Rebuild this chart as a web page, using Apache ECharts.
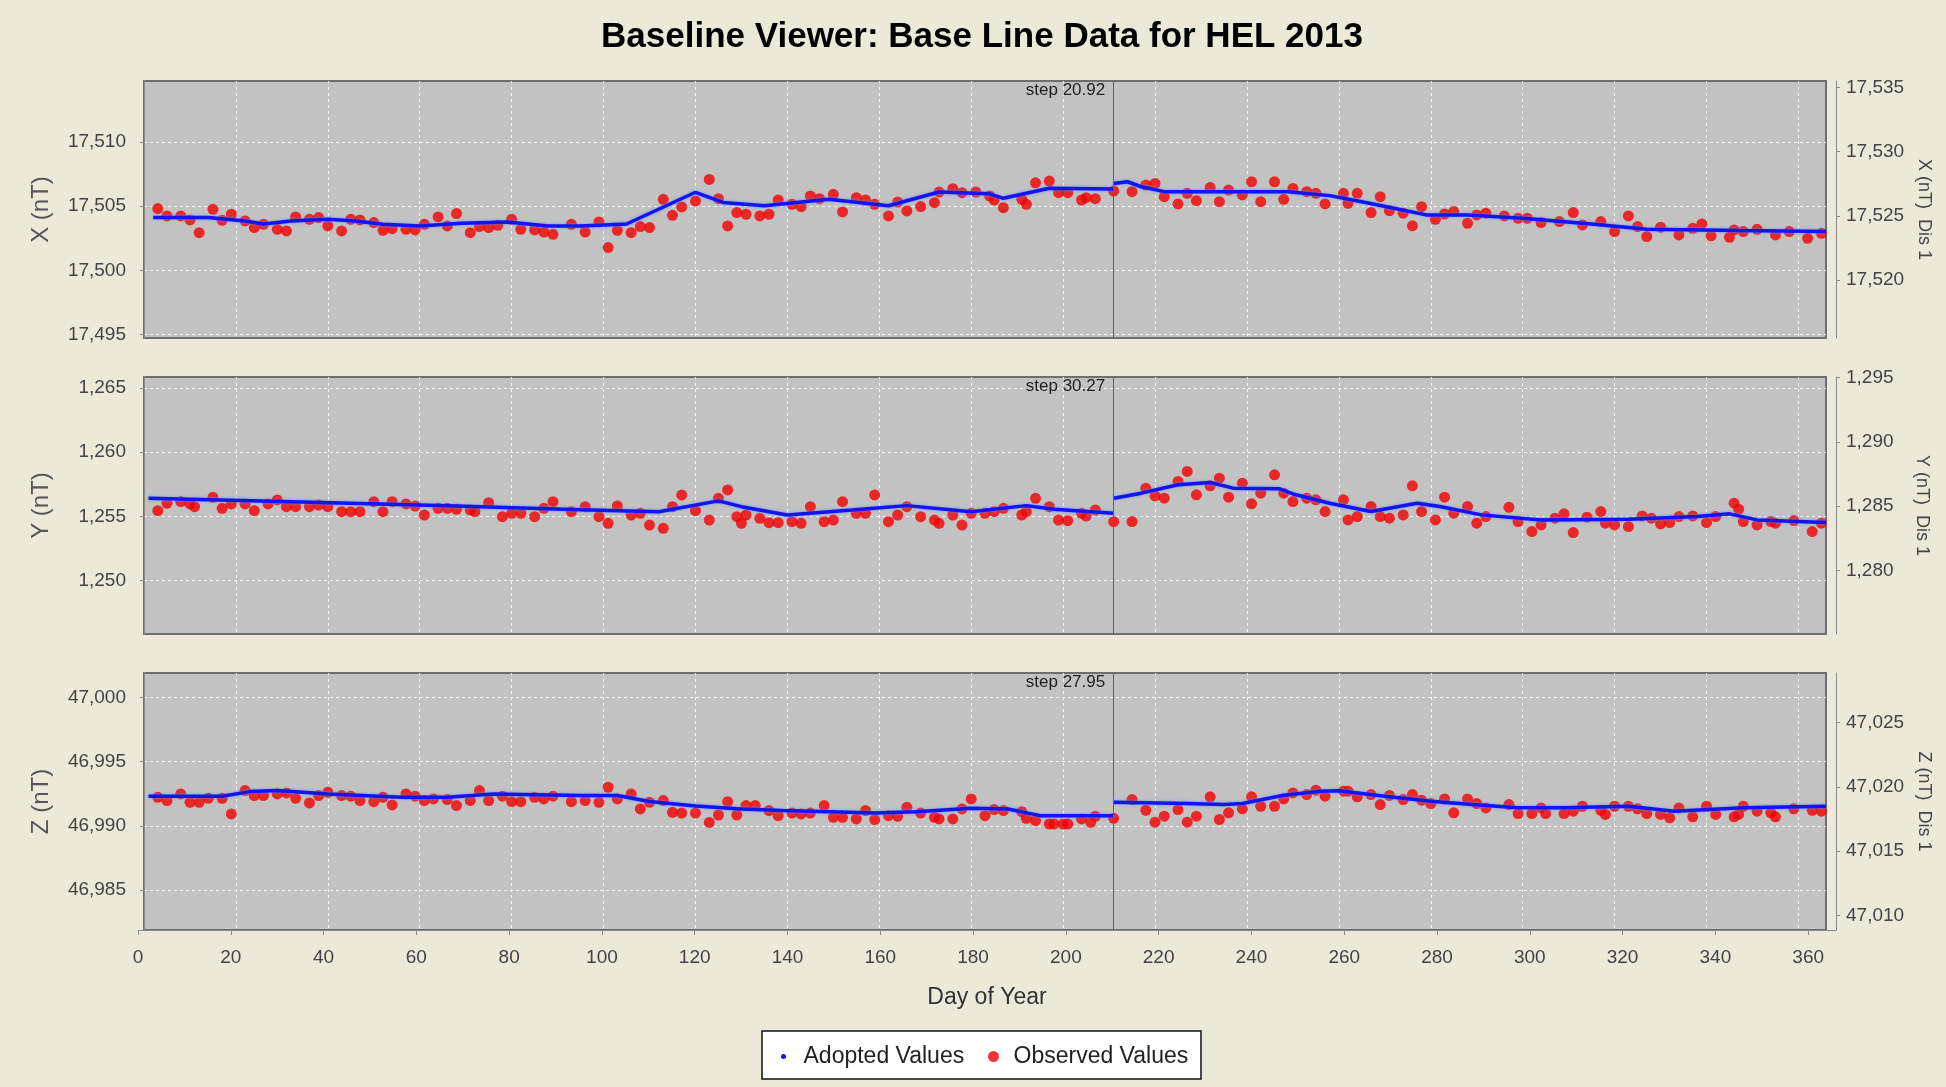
<!DOCTYPE html>
<html>
<head>
<meta charset="utf-8">
<title>Baseline Viewer</title>
<script src="https://cdn.jsdelivr.net/npm/echarts@6/dist/echarts.min.js"></script>
<style>
  html, body { margin: 0; padding: 0; background: #ece9d8; }
  #main { width: 1946px; height: 1087px; }
</style>
</head>
<body>
<div id="main"></div>
<script type="text/javascript">

// ---- data ----
var STEP_DAY = 211;
var DAY_TICKS = [0, 20, 40, 60, 80, 100, 120, 140, 160, 180, 200, 220, 240, 260, 280, 300, 320, 340, 360];

// X component (left axis before the step, right axis "Dis 1" after it)
var X_LEFT_RANGE = [17494.73, 17514.73];
var X_RIGHT_RANGE = [17515.5, 17535.5];
var X_LEFT_TICKS = [17495, 17500, 17505, 17510];
var X_RIGHT_TICKS = [17520, 17525, 17530, 17535];
var X_STEP = 'step 20.92';
var X_ADOPTED_A = [[2,17504.10],[14,17504.10],[22,17503.84],[26,17503.60],[32,17503.84],[40,17503.97],[46,17503.84],[52,17503.58],[60,17503.45],[69,17503.66],[79,17503.76],[88,17503.45],[95,17503.45],[105,17503.60],[120,17506.07],[126,17505.28],[135,17505.02],[149,17505.52],[162,17505.02],[173,17506.09],[184,17505.95],[187,17505.60],[197,17506.38],[211,17506.33]];
var X_ADOPTED_B = [[211,17527.53],[214,17527.66],[217,17527.27],[222,17526.89],[235,17526.89],[249,17526.89],[258,17526.58],[265,17526.11],[272,17525.60],[279,17525.08],[288,17525.08],[300,17524.82],[315,17524.38],[327,17523.96],[347,17523.86],[366,17523.78]];
var X_OBS_A = [[3,17504.80],[5,17504.23],[8,17504.23],[10,17503.92],[12,17502.93],[15,17504.74],[17,17503.89],[19,17504.36],[22,17503.84],[24,17503.32],[26,17503.58],[29,17503.19],[31,17503.06],[33,17504.15],[36,17503.97],[38,17504.10],[40,17503.45],[43,17503.06],[45,17503.97],[47,17503.92],[50,17503.71],[52,17503.11],[54,17503.24],[57,17503.19],[59,17503.14],[61,17503.58],[64,17504.15],[66,17503.45],[68,17504.41],[71,17502.93],[73,17503.40],[75,17503.32],[77,17503.50],[80,17503.97],[82,17503.19],[85,17503.14],[87,17502.98],[89,17502.80],[93,17503.58],[96,17502.98],[99,17503.76],[101,17501.77],[103,17503.11],[106,17502.93],[108,17503.40],[110,17503.32],[113,17505.52],[115,17504.28],[117,17504.93],[120,17505.39],[123,17507.07],[125,17505.57],[127,17503.45],[129,17504.49],[131,17504.36],[134,17504.23],[136,17504.36],[138,17505.47],[141,17505.13],[143,17504.95],[145,17505.78],[147,17505.57],[150,17505.91],[152,17504.54],[155,17505.65],[157,17505.47],[159,17505.13],[162,17504.23],[164,17505.31],[166,17504.62],[169,17504.96],[172,17505.26],[173,17506.09],[176,17506.35],[178,17506.04],[181,17506.09],[184,17505.78],[185,17505.47],[187,17504.87],[191,17505.52],[192,17505.13],[194,17506.81],[197,17506.94],[199,17506.04],[201,17506.04],[204,17505.47],[205,17505.65],[207,17505.57],[211,17506.17]];
var X_OBS_B = [[215,17526.89],[218,17527.40],[220,17527.53],[222,17526.50],[225,17525.93],[227,17526.76],[229,17526.19],[232,17527.22],[234,17526.11],[236,17527.01],[239,17526.63],[241,17527.66],[243,17526.11],[246,17527.66],[248,17526.29],[250,17527.14],[253,17526.89],[255,17526.76],[257,17525.93],[261,17526.76],[262,17525.98],[264,17526.76],[267,17525.26],[269,17526.50],[271,17525.41],[274,17525.21],[276,17524.23],[278,17525.72],[281,17524.74],[283,17525.15],[285,17525.34],[288,17524.43],[290,17525.08],[292,17525.21],[296,17525.00],[299,17524.82],[301,17524.82],[304,17524.48],[308,17524.56],[311,17525.26],[313,17524.30],[317,17524.56],[320,17523.78],[323,17525.00],[325,17524.17],[327,17523.39],[330,17524.12],[334,17523.52],[337,17524.04],[339,17524.38],[341,17523.45],[345,17523.34],[346,17523.91],[348,17523.78],[351,17523.96],[355,17523.52],[358,17523.78],[362,17523.26],[365,17523.65]];

// Y component
var Y_LEFT_RANGE = [1245.84, 1265.84];
var Y_RIGHT_RANGE = [1275.05, 1295.05];
var Y_LEFT_TICKS = [1250, 1255, 1260, 1265];
var Y_RIGHT_TICKS = [1280, 1285, 1290, 1295];
var Y_STEP = 'step 30.27';
var Y_ADOPTED_A = [[1,1256.40],[30,1256.15],[66,1255.83],[95,1255.50],[112,1255.36],[125,1256.20],[130,1255.75],[140,1255.10],[154,1255.49],[166,1255.83],[180,1255.36],[192,1255.83],[198,1255.55],[211,1255.24]];
var Y_ADOPTED_B = [[211,1285.62],[217,1286.01],[225,1286.66],[232,1286.84],[237,1286.40],[247,1286.36],[250,1285.95],[258,1285.23],[267,1284.58],[277,1285.23],[282,1284.97],[291,1284.32],[304,1283.93],[323,1283.98],[338,1284.19],[345,1284.40],[351,1283.93],[366,1283.72]];
var Y_OBS_A = [[3,1255.44],[5,1256.01],[8,1256.14],[10,1255.96],[11,1255.75],[15,1256.48],[17,1255.62],[19,1255.96],[22,1255.96],[24,1255.44],[27,1255.96],[29,1256.27],[31,1255.75],[33,1255.75],[36,1255.75],[38,1255.88],[40,1255.75],[43,1255.36],[45,1255.36],[47,1255.36],[50,1256.14],[52,1255.36],[54,1256.14],[57,1255.96],[59,1255.80],[61,1255.10],[64,1255.62],[66,1255.62],[68,1255.54],[71,1255.49],[72,1255.36],[75,1256.06],[78,1254.97],[80,1255.23],[82,1255.23],[85,1254.97],[87,1255.62],[89,1256.14],[93,1255.36],[96,1255.75],[99,1254.97],[101,1254.45],[103,1255.80],[106,1255.10],[108,1255.23],[110,1254.32],[113,1254.06],[115,1255.75],[117,1256.66],[120,1255.44],[123,1254.71],[125,1256.40],[127,1257.05],[129,1254.97],[130,1254.45],[131,1255.10],[134,1254.84],[136,1254.50],[138,1254.50],[141,1254.58],[143,1254.45],[145,1255.75],[148,1254.58],[150,1254.71],[152,1256.14],[155,1255.23],[157,1255.23],[159,1256.66],[162,1254.58],[164,1255.10],[166,1255.75],[169,1254.97],[172,1254.71],[173,1254.45],[176,1255.10],[178,1254.32],[180,1255.23],[183,1255.23],[185,1255.36],[187,1255.62],[191,1255.10],[192,1255.36],[194,1256.40],[197,1255.75],[199,1254.71],[201,1254.66],[204,1255.23],[205,1255.02],[207,1255.49],[211,1254.58]];
var Y_OBS_B = [[215,1283.80],[218,1286.40],[220,1285.80],[222,1285.62],[225,1286.92],[227,1287.70],[229,1285.88],[232,1286.58],[234,1287.18],[236,1285.70],[239,1286.79],[241,1285.18],[243,1286.01],[246,1287.44],[248,1286.01],[250,1285.36],[253,1285.62],[255,1285.49],[257,1284.58],[261,1285.49],[262,1283.93],[264,1284.19],[267,1284.97],[269,1284.19],[271,1284.06],[274,1284.32],[276,1286.58],[278,1284.58],[281,1283.93],[283,1285.70],[285,1284.45],[288,1284.97],[290,1283.67],[292,1284.19],[297,1284.91],[299,1283.80],[302,1283.02],[304,1283.54],[307,1284.06],[309,1284.40],[311,1282.94],[314,1284.14],[317,1284.58],[318,1283.67],[320,1283.54],[323,1283.41],[326,1284.24],[328,1284.06],[330,1283.62],[332,1283.72],[334,1284.19],[337,1284.24],[340,1283.72],[342,1284.19],[346,1285.23],[347,1284.76],[348,1283.80],[351,1283.54],[354,1283.80],[355,1283.67],[359,1283.88],[363,1283.02],[365,1283.67]];

// Z component
var Z_LEFT_RANGE = [46981.9, 47001.9];
var Z_RIGHT_RANGE = [47008.87, 47028.87];
var Z_LEFT_TICKS = [46985, 46990, 46995, 47000];
var Z_RIGHT_TICKS = [47010, 47015, 47020, 47025];
var Z_STEP = 'step 27.95';
var Z_ADOPTED_A = [[1,46992.31],[17,46992.31],[23,46992.67],[29,46992.75],[40,46992.49],[56,46992.23],[66,46992.23],[76,46992.49],[95,46992.36],[103,46992.36],[110,46991.90],[120,46991.55],[130,46991.32],[139,46991.19],[149,46991.11],[159,46991.01],[168,46991.11],[180,46991.37],[188,46991.32],[195,46990.80],[211,46990.80]];
var Z_ADOPTED_B = [[211,47018.81],[227,47018.71],[235,47018.63],[239,47018.71],[248,47019.35],[256,47019.67],[260,47019.70],[270,47019.28],[280,47018.89],[289,47018.63],[299,47018.38],[309,47018.38],[323,47018.50],[333,47018.12],[348,47018.38],[366,47018.50]];
var Z_OBS_A = [[3,46992.23],[5,46991.97],[8,46992.49],[10,46991.84],[12,46991.84],[14,46992.15],[17,46992.15],[19,46990.93],[22,46992.75],[24,46992.36],[26,46992.36],[29,46992.49],[31,46992.57],[33,46992.15],[36,46991.79],[38,46992.36],[40,46992.62],[43,46992.36],[45,46992.31],[47,46991.97],[50,46991.89],[52,46992.23],[54,46991.63],[57,46992.49],[59,46992.31],[61,46991.97],[63,46992.10],[66,46992.05],[68,46991.58],[71,46991.97],[73,46992.75],[75,46991.97],[78,46992.31],[80,46991.89],[82,46991.89],[85,46992.23],[87,46992.10],[89,46992.31],[93,46991.89],[96,46991.97],[99,46991.84],[101,46993.01],[103,46992.10],[106,46992.49],[108,46991.32],[110,46991.84],[113,46991.97],[115,46991.06],[117,46991.00],[120,46991.00],[123,46990.27],[125,46990.85],[127,46991.89],[129,46990.85],[131,46991.58],[133,46991.58],[136,46991.19],[138,46990.80],[141,46991.00],[143,46990.93],[145,46991.00],[148,46991.58],[150,46990.67],[152,46990.67],[155,46990.54],[157,46991.19],[159,46990.49],[162,46990.80],[164,46990.75],[166,46991.45],[169,46991.00],[172,46990.67],[173,46990.54],[176,46990.54],[178,46991.32],[180,46992.10],[183,46990.80],[185,46991.27],[187,46991.19],[191,46991.11],[192,46990.59],[194,46990.41],[197,46990.15],[198,46990.15],[200,46990.15],[201,46990.15],[204,46990.54],[206,46990.28],[207,46990.75],[211,46990.59]];
var Z_OBS_B = [[215,47019.02],[218,47018.19],[220,47017.26],[222,47017.73],[225,47018.24],[227,47017.26],[229,47017.73],[232,47019.23],[234,47017.47],[236,47017.99],[239,47018.30],[241,47019.23],[243,47018.50],[246,47018.50],[248,47019.07],[250,47019.54],[253,47019.41],[255,47019.75],[257,47019.28],[261,47019.67],[262,47019.67],[264,47019.23],[267,47019.41],[269,47018.63],[271,47019.34],[274,47019.02],[276,47019.41],[278,47018.97],[280,47018.71],[283,47019.07],[285,47017.99],[288,47019.07],[290,47018.71],[292,47018.37],[297,47018.63],[299,47017.93],[302,47017.93],[304,47018.37],[305,47017.93],[309,47017.93],[311,47018.12],[313,47018.50],[317,47018.19],[318,47017.86],[320,47018.50],[323,47018.50],[325,47018.30],[327,47017.93],[330,47017.86],[332,47017.60],[334,47018.37],[337,47017.68],[340,47018.50],[342,47017.86],[346,47017.68],[347,47017.86],[348,47018.50],[351,47018.12],[354,47017.99],[355,47017.68],[359,47018.30],[363,47018.19],[365,47018.12]];

// ---- chart ----
var FONT = '"Liberation Sans", Arial, sans-serif';
var BLUE = '#1414f0';
var RED = '#f20000';

var panels = [
  {name: 'X (nT)', top: 81, adoptedA: X_ADOPTED_A, adoptedB: X_ADOPTED_B, obsA: X_OBS_A, obsB: X_OBS_B,
   leftRange: X_LEFT_RANGE, rightRange: X_RIGHT_RANGE, leftTicks: X_LEFT_TICKS, rightTicks: X_RIGHT_TICKS, step: X_STEP},
  {name: 'Y (nT)', top: 377, adoptedA: Y_ADOPTED_A, adoptedB: Y_ADOPTED_B, obsA: Y_OBS_A, obsB: Y_OBS_B,
   leftRange: Y_LEFT_RANGE, rightRange: Y_RIGHT_RANGE, leftTicks: Y_LEFT_TICKS, rightTicks: Y_RIGHT_TICKS, step: Y_STEP},
  {name: 'Z (nT)', top: 673, adoptedA: Z_ADOPTED_A, adoptedB: Z_ADOPTED_B, obsA: Z_OBS_A, obsB: Z_OBS_B,
   leftRange: Z_LEFT_RANGE, rightRange: Z_RIGHT_RANGE, leftTicks: Z_LEFT_TICKS, rightTicks: Z_RIGHT_TICKS, step: Z_STEP}
];

function fmt(v) { return v.toLocaleString('en-US'); }

var grids = [], xAxes = [], yAxes = [], series = [];
var gridLine = {show: true, lineStyle: {color: '#f4f4f4', width: 1, type: [3, 3]}};

panels.forEach(function (p, i) {
  grids.push({left: 144, width: 1682, top: p.top, height: 257, show: true,
              backgroundColor: '#c2c2c2', borderColor: '#6e6e6e', borderWidth: 2});
  xAxes.push({
    type: 'value', gridIndex: i, min: 0, max: 366,
    axisLine: {show: false}, axisLabel: {show: false},
    axisTick: {show: false, customValues: DAY_TICKS},
    splitLine: gridLine
  });
  yAxes.push({
    type: 'value', gridIndex: i, position: 'left', offset: 8,
    min: p.leftRange[0], max: p.leftRange[1],
    axisLine: {show: true, lineStyle: {color: '#8a8a8a'}},
    axisTick: {show: true, length: 4, customValues: p.leftTicks, lineStyle: {color: '#8a8a8a'}},
    axisLabel: {customValues: p.leftTicks, formatter: fmt, fontSize: 19, fontFamily: FONT, color: '#444', margin: 10},
    splitLine: gridLine,
    name: p.name, nameLocation: 'middle', nameRotate: 90, nameGap: 83,
    nameTextStyle: {fontSize: 24, fontFamily: FONT, color: '#555'}
  });
  yAxes.push({
    type: 'value', gridIndex: i, position: 'right', offset: 10,
    min: p.rightRange[0], max: p.rightRange[1],
    axisLine: {show: true, lineStyle: {color: '#8a8a8a'}},
    axisTick: {show: true, length: 4, customValues: p.rightTicks, lineStyle: {color: '#8a8a8a'}},
    axisLabel: {customValues: p.rightTicks, formatter: fmt, fontSize: 19, fontFamily: FONT, color: '#444', margin: 10},
    splitLine: {show: false},
    name: p.name + '  Dis 1', nameLocation: 'middle', nameRotate: -90, nameGap: 77,
    nameTextStyle: {fontSize: 18, fontFamily: FONT, color: '#444'}
  });

  var lineStyle = {color: BLUE, width: 3.5, shadowColor: 'rgba(90,140,255,0.9)', shadowBlur: 3};
  series.push({
    name: 'Adopted Values', type: 'line', xAxisIndex: i, yAxisIndex: 2 * i,
    data: p.adoptedA, symbol: 'none', lineStyle: lineStyle, itemStyle: {color: BLUE}, z: 4,
    markPoint: {
      silent: true, symbol: 'rect', symbolSize: 1, itemStyle: {color: 'rgba(0,0,0,0)'},
      label: {show: true, formatter: p.step, position: [-8, 10], align: 'right', verticalAlign: 'middle',
              fontSize: 17, fontFamily: FONT, color: '#222'},
      data: [{coord: [STEP_DAY, p.leftRange[1]]}]
    }
  });
  series.push({
    name: 'Adopted Values', type: 'line', xAxisIndex: i, yAxisIndex: 2 * i + 1,
    data: p.adoptedB, symbol: 'none', lineStyle: lineStyle, itemStyle: {color: BLUE}, z: 4,
    markLine: {
      silent: true, symbol: ['none', 'none'], label: {show: false},
      lineStyle: {color: '#b83a3a', width: 1, type: 'solid'},
      data: [{xAxis: STEP_DAY}]
    }
  });
  series.push({
    name: 'Observed Values', type: 'scatter', xAxisIndex: i, yAxisIndex: 2 * i,
    data: p.obsA, symbolSize: 11, itemStyle: {color: RED}, z: 3
  });
  series.push({
    name: 'Observed Values', type: 'scatter', xAxisIndex: i, yAxisIndex: 2 * i + 1,
    data: p.obsB, symbolSize: 11, itemStyle: {color: RED}, z: 3
  });
});

// shared day axis drawn below the bottom panel
grids.push({left: 138, width: 1698, top: 673, height: 257});
xAxes.push({
  type: 'value', gridIndex: 3, min: 0, max: 366, offset: 7,
  axisLine: {show: true, lineStyle: {color: '#8a8a8a'}},
  axisTick: {show: true, length: 5, customValues: DAY_TICKS, lineStyle: {color: '#8a8a8a'}},
  axisLabel: {customValues: DAY_TICKS, fontSize: 19, fontFamily: FONT, color: '#444', margin: 11},
  splitLine: {show: false},
  name: 'Day of Year', nameLocation: 'middle', nameGap: 49,
  nameTextStyle: {fontSize: 23, fontFamily: FONT, color: '#333'}
});
yAxes.push({type: 'value', gridIndex: 3, show: false, min: 0, max: 1});

var chart = echarts.init(document.getElementById('main'));
chart.setOption({
  animation: false,
  backgroundColor: '#ece9d8',
  graphic: [
    {type: 'text', x: 982, y: 37,
     style: {text: 'Baseline Viewer: Base Line Data for HEL 2013', font: 'bold 35px ' + FONT, fill: '#000',
             align: 'center', verticalAlign: 'middle', textAlign: 'center', textVerticalAlign: 'middle'}},
    {type: 'rect', z: 0, shape: {x: 762, y: 1031, width: 439, height: 48},
     style: {fill: '#ffffff', stroke: '#111111', lineWidth: 1.5}}
  ],
  legend: [
    {data: [{name: 'Adopted Values', icon: 'circle'}], left: 781, top: 1045, padding: 0,
     itemWidth: 30, itemHeight: 5, selectedMode: false,
     textStyle: {fontSize: 23, fontFamily: FONT, color: '#222'}},
    {data: [{name: 'Observed Values', icon: 'circle'}], left: 988, top: 1045, padding: 0,
     itemWidth: 30, itemHeight: 11, selectedMode: false,
     textStyle: {fontSize: 23, fontFamily: FONT, color: '#222'}}
  ],
  grid: grids,
  xAxis: xAxes,
  yAxis: yAxes,
  series: series
});

</script>
</body>
</html>
